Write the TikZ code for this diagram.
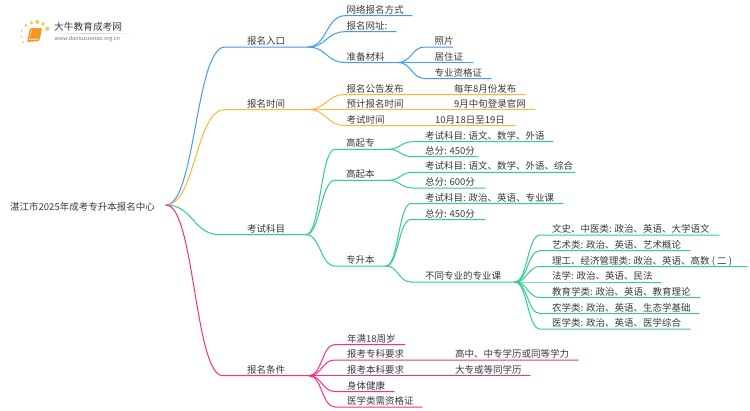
\documentclass[tikz,border=0pt]{standalone}
\usepackage{fontspec}
\setmainfont{Noto Sans CJK SC}
\definecolor{cblue}{HTML}{3D9BFA}
\definecolor{corange}{HTML}{FDB63C}
\definecolor{cgreen}{HTML}{2FCF8C}
\definecolor{cpink}{HTML}{FB2C87}
\definecolor{ctext}{HTML}{3A3A3A}
\definecolor{cbook}{HTML}{F39A1E}
\definecolor{cdot}{HTML}{FBC65A}
\tikzset{
  lbl/.style={anchor=west,inner sep=0pt,text=ctext,font=\fontsize{9.5}{10}\selectfont,text height=8pt,text depth=2pt},
  conn/.style={line width=1pt,line cap=round},
  logodot/.style={circle,fill=cdot,draw=none,inner sep=0pt}
}
% id, parent, x of bend end, y, x of line end, colour, x of text, text
\newcommand{\leafbr}[8]{%
  \coordinate (#1) at (#3,#4);
  \coordinate (#1-e) at (#5,#4);
  \path let \p1=(#2), \p2=(#1), \n1={(\x1+\x2)/2} in
    coordinate (#1-c1) at (\n1,\y1) coordinate (#1-c2) at (\n1,\y2);
  \draw[conn,#6] (#2) .. controls (#1-c1) and (#1-c2) .. (#1) -- (#1-e);
  \node[lbl] (#1-t) at (#7,#4-5.5) {#8};
}
\usetikzlibrary{calc}
\begin{document}
\begin{tikzpicture}[x=1pt,y=-1pt]
\useasboundingbox (0,0) rectangle (750,410);
\fill[white] (0,0) rectangle (750,410);
% logo
\foreach \n/\x/\y/\d in {a/21.7/30.7/2.4,b/26/25.3/3,c/31.3/22.7/3.6,d/37.3/22/4,e/43/24/3.6,f/47.3/28.7/4.2,g/21.7/36.7/2,h/23.3/42.3/1.8}
  \node[logodot,minimum size=\d pt] (dot\n) at (\x,\y) {};
\fill[cbook,rounded corners=1.2pt] (30,28) -- (42,28) -- (39.5,41) -- (27,42) -- cycle;
\fill[white!70!cbook] (28.5,39) -- (39,38.5) -- (39,39.5) -- (28.5,40) -- cycle;
\draw[white!60!cbook,line width=.5pt] (32,29) -- (29.5,38);
\shade[left color=white,right color=white,middle color=black!18] (50,33) rectangle (134,33.6);
\node[anchor=west,inner sep=0pt,text=ctext,font=\fontsize{9.7}{10}\selectfont] (logot) at (54,27) {大牛教育成考网};
\node[anchor=west,inner sep=0pt,text=black!55,font=\fontsize{5.4}{6}\selectfont] (logou) at (54.5,38.7) {www.daniuxuexiao.org.cn};
% root
\node[lbl] (root) at (10,207.5) {湛江市2025年成考专升本报名中心};
\coordinate (rootj) at (166,205);
% 报名入口
\leafbr{A}{rootj}{225}{47}{308}{cblue}{247}{报名入口}
\leafbr{A1}{A-e}{345}{15.7}{412}{cblue}{346.5}{网络报名方式}
\leafbr{A2}{A-e}{345}{31.7}{396}{cblue}{346.5}{报名网址:}
\leafbr{A3}{A-e}{345}{62.5}{398}{cblue}{346.5}{准备材料}
\leafbr{A31}{A3-e}{425}{47}{453}{cblue}{434.5}{照片}
\leafbr{A32}{A3-e}{425}{62.5}{473}{cblue}{434.5}{居住证}
\leafbr{A33}{A3-e}{425}{78.5}{491}{cblue}{434.5}{专业资格证}
% 报名时间
\leafbr{B}{rootj}{225}{109.5}{308}{corange}{247}{报名时间}
\leafbr{B1}{B-e}{345}{94.5}{525}{corange}{346.5}{报名公告发布}
\leafbr{B2}{B-e}{345}{109.5}{535}{corange}{346.5}{预计报名时间}
\leafbr{B3}{B-e}{345}{125.5}{515}{corange}{346.5}{考试时间}
\node[lbl] (B1v) at (454,89) {每年8月份发布};
\node[lbl] (B2v) at (454,104) {9月中旬登录官网};
\node[lbl] (B3v) at (435,120) {10月18日至19日};
% 考试科目
\leafbr{C}{rootj}{220}{234.7}{306}{cgreen}{247}{考试科目}
\leafbr{C1}{C-e}{335}{149.3}{388}{cgreen}{346}{高起专}
\leafbr{C2}{C-e}{335}{180.3}{388}{cgreen}{346}{高起本}
\leafbr{C3}{C-e}{335}{266}{386}{cgreen}{346}{专升本}
\leafbr{C11}{C1-e}{413}{141.7}{553}{cgreen}{425}{考试科目: 语文、数学、外语}
\leafbr{C12}{C1-e}{413}{156.7}{478}{cgreen}{425}{总分: 450分}
\leafbr{C21}{C2-e}{413}{172.3}{575}{cgreen}{425}{考试科目: 语文、数学、外语、综合}
\leafbr{C22}{C2-e}{413}{188}{485}{cgreen}{425}{总分: 600分}
\leafbr{C31}{C3-e}{411}{203.5}{563}{cgreen}{425}{考试科目: 政治、英语、专业课}
\leafbr{C32}{C3-e}{411}{219.5}{485}{cgreen}{425}{总分: 450分}
\leafbr{C33}{C3-e}{411}{282}{515}{cgreen}{425}{不同专业的专业课}
\leafbr{D1}{C33-e}{540}{235}{719}{cgreen}{552}{文史、中医类: 政治、英语、大学语文}
\leafbr{D2}{C33-e}{540}{250.7}{690}{cgreen}{552}{艺术类: 政治、英语、艺术概论}
\leafbr{D3}{C33-e}{540}{266.5}{747}{cgreen}{552}{理工、经济管理类: 政治、英语、高数 ( 二 )}
\leafbr{D4}{C33-e}{540}{282}{661}{cgreen}{552}{法学: 政治、英语、民法}
\leafbr{D5}{C33-e}{540}{297.5}{700}{cgreen}{552}{教育学类: 政治、英语、教育理论}
\leafbr{D6}{C33-e}{540}{313.5}{699}{cgreen}{552}{农学类: 政治、英语、生态学基础}
\leafbr{D7}{C33-e}{540}{329}{690}{cgreen}{552}{医学类: 政治、英语、医学综合}
% 报名条件
\leafbr{E}{rootj}{223}{375.7}{309}{cpink}{247}{报名条件}
\leafbr{E1}{E-e}{335}{344.5}{405}{cpink}{347}{年满18周岁}
\leafbr{E2}{E-e}{335}{360}{578}{cpink}{347}{报考专科要求}
\leafbr{E3}{E-e}{335}{375.7}{530}{cpink}{347}{报考本科要求}
\leafbr{E4}{E-e}{335}{391.5}{394}{cpink}{347}{身体健康}
\leafbr{E5}{E-e}{335}{407}{422}{cpink}{347}{医学类需资格证}
\node[lbl] (E2v) at (455,354.5) {高中、中专学历或同等学力};
\node[lbl] (E3v) at (455,370.2) {大专或等同学历};
\end{tikzpicture}
\end{document}
